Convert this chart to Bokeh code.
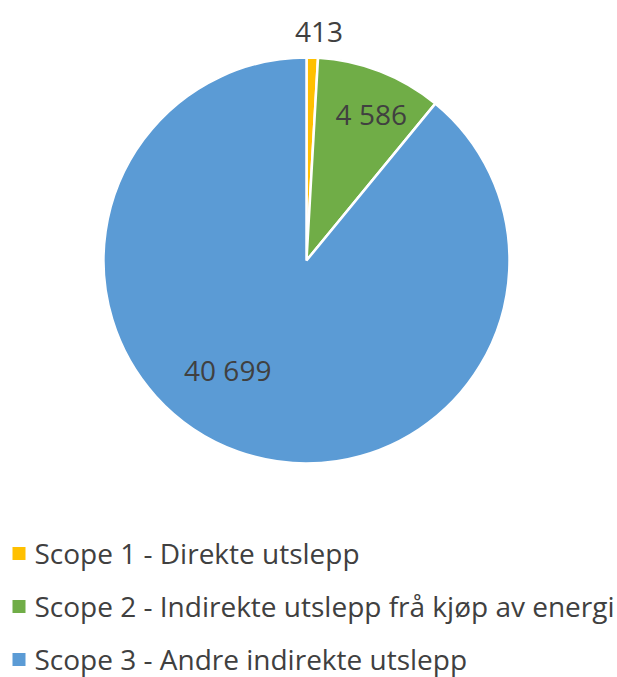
import math
from bokeh.plotting import figure
from bokeh.models import Range1d, ColumnDataSource
from bokeh.core.properties import value
from bokeh.embed import file_html
from bokeh.resources import INLINE

categories = ["Scope 1 - Direkte utslepp",
              "Scope 2 - Indirekte utslepp frå kjøp av energi",
              "Scope 3 - Andre indirekte utslepp"]
values = [413, 4586, 40699]
labels = ["413", "4 586", "40 699"]
colors = ["#FFC000", "#70AD47", "#5B9BD5"]

W, H = 617, 677
FONT = "Open Sans"

# coordinates: x = screen x, y = H - screen y
p = figure(width=W, height=H, output_backend="svg", toolbar_location=None,
           x_range=Range1d(0, W), y_range=Range1d(0, H),
           min_border=0)
p.axis.visible = False
p.grid.visible = False
p.outline_line_color = None
p.background_fill_color = "white"

cx, cy, r = 306, H - 260, 203
total = sum(values)
starts, ends, mids = [], [], []
cum = 0
for v in values:
    a0 = math.pi / 2 - 2 * math.pi * cum / total
    cum += v
    a1 = math.pi / 2 - 2 * math.pi * cum / total
    starts.append(a0); ends.append(a1); mids.append((a0 + a1) / 2)

src = ColumnDataSource(dict(start=starts, end=ends, color=colors))
p.wedge(x=cx, y=cy, radius=r, start_angle="start", end_angle="end",
        direction="clock", fill_color="color", line_color="white",
        line_width=2.5, source=src)

# data labels
lab_r = [1.125, 0.79, 0.665]
lab_adj = [-1.5, -2.5, -16.0]  # degrees
lx = [cx + r * f * math.cos(m + math.radians(d)) for f, m, d in zip(lab_r, mids, lab_adj)]
ly = [cy + r * f * math.sin(m + math.radians(d)) for f, m, d in zip(lab_r, mids, lab_adj)]
p.text(x=lx, y=ly, text=labels, text_font=value(FONT), text_font_size="28px",
       text_color="#404040", text_align="center", text_baseline="middle")

# legend
mid = [H - (552 + 53 * i) for i in range(len(categories))]
p.rect(x=[18.5] * 3, y=[m - 1 for m in mid], width=13, height=13,
       fill_color=colors, line_color=None)
p.text(x=[34] * 3, y=mid, text=categories, text_font=value(FONT),
       text_font_size="28px", text_color="#404040", text_align="left",
       text_baseline="middle")

open("out.html", "w").write(file_html(p, INLINE))
